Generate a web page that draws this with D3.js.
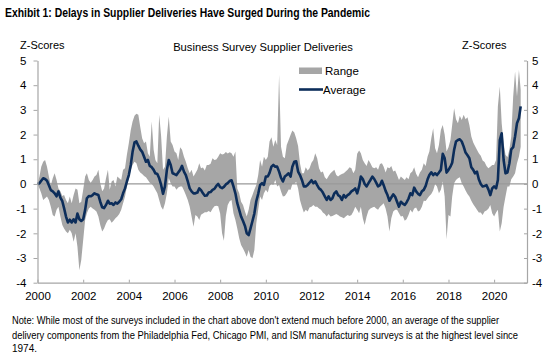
<!DOCTYPE html>
<html>
<head>
<meta charset="utf-8">
<script src="https://cdn.jsdelivr.net/npm/d3@7"></script>
<style>
  body { margin: 0; background: #fff; }
  text { font-family: Arial, "Liberation Sans", sans-serif; fill: #000; }
</style>
</head>
<body>
<div id="viz"></div>
<script>
// monthly values, Jan 2000 -> Mar 2021 (z-scores)
const average = [
  0.0, 0.03, 0.13, 0.23, 0.2, 0.13, -0.05, -0.25, -0.3, -0.38, -0.5, -0.3,
  -0.55, -0.7, -0.98, -1.32, -1.56, -1.45, -1.56, -1.43, -1.56, -1.2, -1.43, -1.5,
  -1.43, -1.05, -0.58, -0.49, -0.5, -0.45, -0.38, -0.42, -0.45, -0.72, -0.95, -0.98,
  -0.85, -0.68, -0.8, -0.78, -0.85, -0.75, -0.8, -0.72, -0.62, -0.38, -0.18, 0.1,
  0.36, 0.77, 1.3, 1.68, 1.72, 1.55, 1.4, 1.3, 1.1, 0.9, 0.97, 0.73,
  0.68, 0.57, 0.43, 0.4, 0.23, -0.04, -0.4, -0.1, 0.57, 0.97, 0.77, 0.43,
  0.4, 0.36, 0.46, 0.57, 0.73, 0.5, 0.36, 0.1, -0.18, -0.3, -0.38, -0.38,
  -0.35, -0.18, -0.25, -0.38, -0.48, -0.47, -0.35, -0.33, -0.24, -0.2, -0.08, 0.0,
  -0.13, -0.17, -0.12, -0.02, 0.03, 0.12, 0.15, -0.1, -0.38, -0.78, -1.05, -1.32,
  -1.5, -1.7, -2.0, -2.07, -1.8, -1.5, -1.2, -0.7, -0.4, -0.04, 0.03, -0.04,
  0.3, 0.3, 0.45, 0.7, 0.77, 0.7, 0.7, 0.5, 0.25, 0.1, 0.3, 0.36,
  0.43, 0.3, 0.7, 0.9, 0.92, 0.5, 0.36, 0.16, -0.1, -0.1, -0.04, 0.05,
  0.15, 0.03, 0.1, -0.05, -0.18, -0.24, -0.35, -0.5, -0.65, -0.5, -0.65, -0.58,
  -0.38, -0.3, -0.45, -0.5, -0.65, -0.45, -0.55, -0.45, -0.4, -0.3, -0.25, -0.18,
  -0.38, -0.1, 0.3, 0.2, 0.0, -0.1, 0.03, 0.16, 0.3, 0.2, 0.05, -0.1,
  -0.05, 0.13, -0.05, -0.28, -0.45, -0.68, -0.55, -0.42, -0.52, -0.72, -0.92, -0.72,
  -0.8, -0.85, -0.75, -0.6, -0.38, -0.45, -0.15, -0.3, -0.4, -0.45, -0.3, -0.24,
  -0.08, 0.19, 0.36, 0.47, 0.36, 0.43, 0.36, 0.46, 0.57, 1.22, 1.04, 0.46,
  0.57, 0.7, 0.86, 1.38, 1.72, 1.78, 1.81, 1.72, 1.51, 1.27, 1.16, 1.04,
  0.68, 0.57, 0.43, 0.5, 0.19, 0.0, -0.1, -0.08, -0.05, -0.22, -0.45, -0.18,
  -0.1, -0.18, 0.16, 1.78, 2.05, 0.97, 0.43, 0.46, 0.84, 1.4, 1.49, 1.92,
  2.46, 2.66, 3.14
];

const rangeHigh = [
  0.0, 0.3, 0.7, 0.9, 0.97, 0.7, 0.3, -0.05, 0.23, 0.43, 0.16, -0.18,
  -0.3, -0.49, -0.45, -0.65, -0.78, -0.51, -0.78, -0.45, -0.18, -0.24, -0.78, -0.72,
  -0.24, 0.3, 0.43, 0.16, 0.05, 0.16, 0.3, 0.36, 0.57, 0.03, -0.3, -0.18,
  0.23, 0.57, -0.24, 0.1, 0.16, -0.1, 0.3, 0.23, 0.16, 0.57, 0.64, 1.18,
  1.65, 2.19, 2.53, 2.76, 2.84, 2.8, 2.32, 1.85, 1.65, 1.72, 1.24, 1.1,
  2.53, 1.38, 0.97, 0.84, 2.8, 1.92, 0.57, 0.7, 1.92, 2.73, 1.72, 1.58,
  1.31, 1.24, 0.97, 1.49, 1.38, 1.1, 0.9, 0.64, 0.43, 0.57, 0.3, 0.43,
  0.57, 0.84, 0.64, 0.67, 0.54, 0.77, 0.77, 0.82, 1.04, 0.97, 0.99, 1.1,
  1.24, 1.19, 1.21, 1.29, 1.23, 1.28, 1.24, 1.1, 1.31, -0.18, -0.38, -0.72,
  -0.85, -1.12, -1.32, -1.05, -0.65, -0.45, -0.24, -0.04, 0.36, 0.97, 0.7, 1.1,
  0.97, 1.1, 1.72, 1.89, 1.51, 1.78, 1.58, 4.42, 1.51, 1.1, 1.04, 1.58,
  1.78, 1.99, 2.16, 2.08, 1.85, 1.54, 0.84, 0.43, 0.43, 0.68, 0.54, 0.64,
  0.86, 0.97, 1.24, 1.04, 0.64, 0.46, 0.5, 0.27, 0.19, 0.32, 0.43, 0.5,
  0.57, 0.36, 0.3, 0.36, 0.4, 0.43, 0.5, 0.57, 0.68, 0.64, 0.43, 0.57,
  1.22, 1.35, 1.24, 0.97, 0.84, 0.73, 0.97, 0.84, 0.68, 0.64, 0.68, 0.57,
  0.81, 0.84, 0.7, 0.46, 0.68, 0.64, 0.73, 0.5, 0.54, 0.36, 0.16, 0.3,
  0.23, 0.16, 0.27, 0.19, 0.43, 0.5, 0.68, 0.41, 0.27, 0.46, 0.57, 0.84,
  0.73, 1.11, 1.31, 1.85, 2.26, 1.45, 1.24, 1.58, 2.19, 2.39, 1.99, 1.31,
  1.49, 1.78, 2.39, 3.07, 2.62, 2.46, 2.76, 2.59, 2.8, 2.62, 2.7, 2.39,
  1.92, 1.68, 1.54, 1.38, 1.24, 1.14, 0.95, 0.89, 0.73, 0.64, 0.7, 0.77,
  0.77, 0.97, 3.14, 3.95, 2.46, 1.65, 1.18, 1.08, 1.38, 1.92, 3.54, 4.55,
  3.54, 4.62, 3.81
];

const rangeLow = [
  0.0, -0.18, -0.38, -0.65, -0.58, -0.51, -0.65, -0.92, -1.26, -1.32, -1.05, -0.92,
  -1.32, -1.66, -1.8, -1.93, -2.0, -1.86, -2.0, -2.34, -2.0, -2.54, -3.5, -3.08,
  -2.27, -1.46, -1.19, -0.99, -0.92, -0.99, -1.05, -1.12, -1.32, -1.66, -1.93, -1.8,
  -1.6, -1.46, -1.43, -1.57, -1.49, -1.39, -1.32, -1.22, -1.05, -0.78, -0.51, -0.1,
  0.2, 0.57, 0.77, 0.9, 0.84, 0.57, 0.46, 0.4, 0.32, 0.27, 0.16, 0.05,
  0.0, -0.1, -0.24, -0.38, -0.65, -0.92, -1.05, -0.78, -0.38, 0.23, 0.03, -0.1,
  -0.1, -0.24, -0.14, -0.1, -0.1, -0.27, -0.45, -0.65, -0.92, -1.32, -1.73, -1.26,
  -1.32, -1.46, -1.25, -1.2, -1.15, -1.15, -1.1, -1.15, -1.0, -0.9, -0.88, -0.9,
  -1.2, -2.0, -2.3, -1.3, -0.85, -0.7, -0.65, -1.19, -1.46, -1.8, -2.2, -2.47,
  -2.61, -2.78, -2.95, -2.68, -2.95, -3.01, -2.68, -1.59, -1.05, -0.51, -0.65, -0.38,
  -0.24, -0.35, -0.08, 0.0, -0.04, 0.16, -0.1, -0.04, -0.31, -0.51, -0.49, -0.38,
  -0.22, -0.24, 0.0, 0.0, 0.09, -0.18, -0.65, -0.92, -1.16, -1.05, -1.12, -0.95,
  -0.92, -0.85, -0.92, -0.92, -0.99, -1.05, -1.16, -1.22, -1.32, -1.22, -1.32, -1.3,
  -1.26, -1.22, -1.26, -1.32, -1.35, -1.39, -1.32, -1.26, -1.3, -1.26, -1.12, -0.92,
  -1.05, -1.19, -0.92, -1.39, -1.66, -1.32, -1.08, -0.99, -0.95, -0.92, -0.99, -1.05,
  -0.92, -0.85, -0.78, -0.99, -1.32, -1.93, -1.39, -1.12, -1.05, -1.05, -1.19, -1.32,
  -1.3, -1.49, -1.43, -1.26, -1.05, -1.16, -0.99, -0.95, -1.12, -1.08, -0.92, -0.68,
  -0.69, -0.58, -0.49, -0.41, -0.27, 0.0, -0.1, -0.38, -0.24, 0.1, -0.51, -2.24,
  -1.26, -1.32, -0.51, 0.03, 0.16, 0.23, 0.27, 0.03, -0.1, -0.27, -0.41, -0.51,
  -0.68, -0.82, -0.92, -1.05, -1.16, -1.16, -1.26, -1.12, -1.08, -1.0, -0.85, -1.19,
  -1.32, -1.16, -1.05, -1.93, -1.59, -0.92, -0.51, -0.1, -0.1, 0.19, 0.3, 0.43,
  0.84, 1.11, 1.51
];

const months = d3.timeMonth.range(new Date(2000, 0, 1), new Date(2021, 3, 1));
const yTicks = [-4, -3, -2, -1, 0, 1, 2, 3, 4, 5];

const title = 'Exhibit 1: Delays in Supplier Deliveries Have Surged During the Pandemic';
const chartTitle = 'Business Survey Supplier Deliveries';
const noteLines = [
  "Note: While most of the surveys included in the chart above don't extend much before 2000, an average of the supplier",
  'delivery components from the Philadelphia Fed, Chicago PMI, and ISM manufacturing surveys is at the highest level since',
  '1974.'
];
const noteWidths = [487, 506, null];
const noteBaselines = [324, 339, 351.5];

const width = 559;
const height = 353;
const margin = {top: 60.5, right: 32, bottom: 70.3, left: 37.5};
const bandColor = '#a6a6a6';
const lineColor = '#0c2d5a';
const axisColor = '#a6a6a6';

const data = months.map((d, i) => ({date: d, avg: average[i], hi: rangeHigh[i], lo: rangeLow[i]}));

const x = d3.scaleTime()
    .domain([new Date(2000, 0, 1), new Date(2021, 5, 10)])
    .range([margin.left, width - margin.right]);

const y = d3.scaleLinear()
    .domain([-4, 5])
    .range([height - margin.bottom, margin.top]);

const svg = d3.select('#viz')
  .append('svg')
    .attr('width', width)
    .attr('height', height)
    .attr('viewBox', [0, 0, width, height]);

svg.append('rect').attr('width', width).attr('height', height).attr('fill', '#fff');

// title
svg.append('text')
    .attr('x', 5)
    .attr('y', 17)
    .attr('textLength', 365)
    .attr('lengthAdjust', 'spacingAndGlyphs')
    .style('font-family', '"Liberation Sans Narrow", "Arial Narrow", Arial, sans-serif')
    .style('font-weight', 'bold')
    .style('font-size', '12.5px')
    .text(title);

svg.append('text')
    .attr('x', 263)
    .attr('y', 51)
    .attr('text-anchor', 'middle')
    .style('font-size', '11.2px')
    .text(chartTitle);

svg.append('text').attr('x', 20).attr('y', 49).style('font-size', '11px').text('Z-Scores');
svg.append('text').attr('x', 462).attr('y', 49).style('font-size', '11px').text('Z-Scores');

// range band
const band = d3.area()
    .x(d => x(d.date))
    .y0(d => y(d.lo))
    .y1(d => y(d.hi));

svg.append('path')
    .datum(data)
    .attr('d', band)
    .attr('fill', bandColor);

// zero line
svg.append('line')
    .attr('x1', x.range()[0])
    .attr('x2', x.range()[1])
    .attr('y1', y(0))
    .attr('y2', y(0))
    .attr('stroke', '#999')
    .attr('stroke-width', 1.2);

// average line
const avgLine = d3.line()
    .x(d => x(d.date))
    .y(d => y(d.avg));

svg.append('path')
    .datum(data)
    .attr('d', avgLine)
    .attr('fill', 'none')
    .attr('stroke', lineColor)
    .attr('stroke-width', 2.6)
    .attr('stroke-linejoin', 'round');

// axes
const xAxis = svg.append('g')
    .attr('transform', `translate(0, ${height - margin.bottom})`)
    .call(d3.axisBottom(x)
        .ticks(d3.timeYear.every(2))
        .tickFormat(d3.timeFormat('%Y'))
        .tickSize(-3)
        .tickSizeOuter(0)
        .tickPadding(9));

const yLeft = svg.append('g')
    .attr('transform', `translate(${margin.left}, 0)`)
    .call(d3.axisLeft(y)
        .tickValues(yTicks)
        .tickFormat(d => String(d))
        .tickSize(4)
        .tickSizeOuter(0)
        .tickPadding(7));

const yRight = svg.append('g')
    .attr('transform', `translate(${width - margin.right}, 0)`)
    .call(d3.axisRight(y)
        .tickValues(yTicks)
        .tickFormat(d => String(d))
        .tickSize(-3)
        .tickSizeOuter(0)
        .tickPadding(5));

[xAxis, yLeft, yRight].forEach(g => {
  g.select('.domain').attr('stroke', axisColor).attr('stroke-width', 1.2);
  g.selectAll('.tick line').attr('stroke', axisColor);
  g.selectAll('.tick text')
      .style('font-family', 'Arial, "Liberation Sans", sans-serif')
      .style('font-size', '11.5px')
      .attr('fill', '#000');
});

// legend
const legend = svg.append('g').attr('transform', 'translate(299, 0)');
legend.append('rect')
    .attr('x', 0).attr('y', 67.5)
    .attr('width', 23).attr('height', 6.5)
    .attr('fill', bandColor);
legend.append('text').attr('x', 26).attr('y', 75).style('font-size', '11.5px').text('Range');
legend.append('line')
    .attr('x1', 0).attr('x2', 24)
    .attr('y1', 89.5).attr('y2', 89.5)
    .attr('stroke', lineColor)
    .attr('stroke-width', 2.6);
legend.append('text').attr('x', 24).attr('y', 94).style('font-size', '11.5px').text('Average');

// note
svg.append('g')
  .selectAll('text')
  .data(noteLines)
  .join('text')
    .attr('x', 12)
    .attr('y', (d, i) => noteBaselines[i])
    .attr('textLength', (d, i) => noteWidths[i])
    .attr('lengthAdjust', 'spacingAndGlyphs')
    .style('font-size', '10px')
    .text(d => d);
</script>
</body>
</html>
